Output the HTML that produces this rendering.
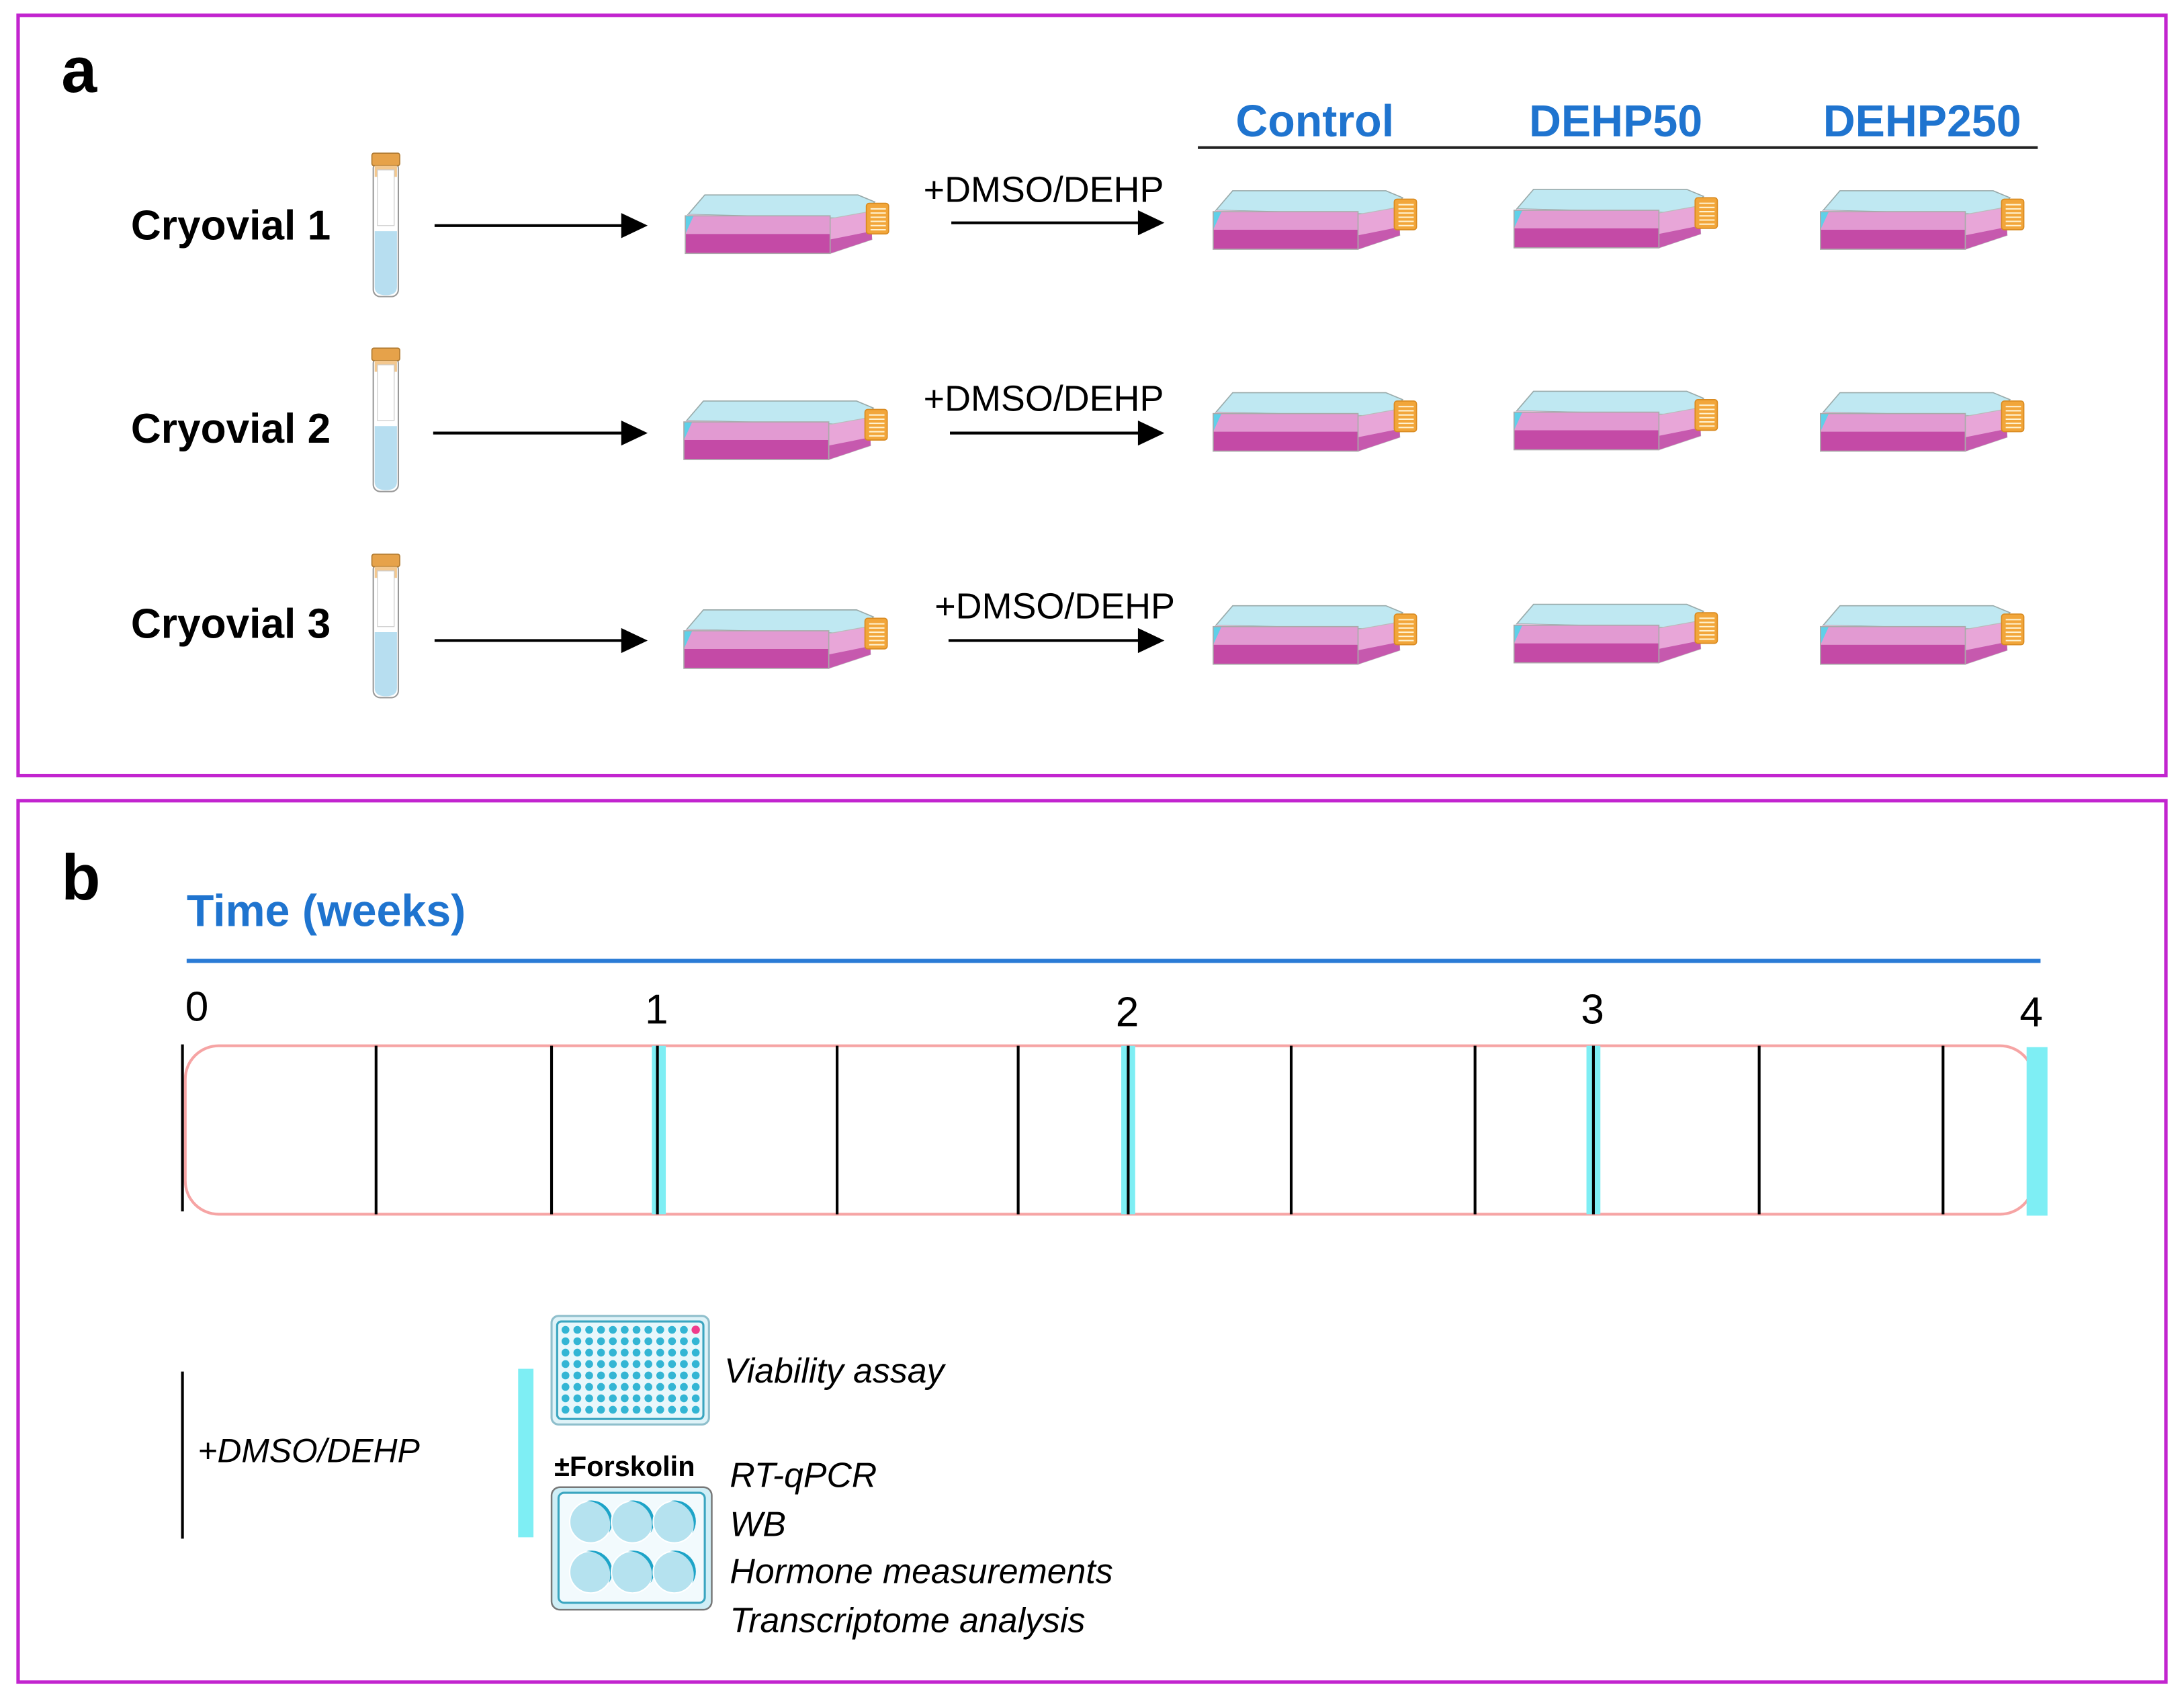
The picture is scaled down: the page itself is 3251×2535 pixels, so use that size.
<!DOCTYPE html>
<html><head><meta charset="utf-8"><style>
html,body{margin:0;padding:0;background:#fff}
svg{display:block}
text{font-family:"Liberation Sans",sans-serif}
</style></head><body>
<svg width="3251" height="2535" viewBox="0 0 1568 1223" preserveAspectRatio="none" xmlns="http://www.w3.org/2000/svg">
<defs>
<g id="flask">
  <polygon points="2,14 14,0 124,0 136,5 126,17" fill="#bfe8f2" stroke="#9aa" stroke-width="0.8"/>
  <polygon points="2,14 126,17 124,19 2,16" fill="#f0c8e4"/>
  <rect x="0" y="15" width="104" height="13" fill="#e29ad2"/>
  <rect x="0" y="28" width="104" height="14" fill="#c44aa6"/>
  <polygon points="0,15 6,15 0,28" fill="#5fd0e8"/>
  <polygon points="104,17 132,12 134,32 104,42" fill="#e8a6d8" stroke="#bbb" stroke-width="0.6"/>
  <polygon points="104,32 134,26 134,32 104,42" fill="#c659ae"/>
  <rect x="0" y="15" width="104" height="27" fill="none" stroke="#aaa" stroke-width="0.8"/>
  <rect x="130" y="6" width="16" height="22" rx="2" fill="#f2a63a" stroke="#d88a20" stroke-width="0.8"/>
  <g stroke="#fff2d0" stroke-width="1"><line x1="133" y1="10" x2="144" y2="10"/><line x1="133" y1="13" x2="144" y2="13"/><line x1="133" y1="16" x2="144" y2="16"/><line x1="133" y1="19" x2="144" y2="19"/><line x1="133" y1="22" x2="144" y2="22"/><line x1="133" y1="25" x2="144" y2="25"/></g>
</g>
<g id="tube">
  <rect x="0" y="6" width="18" height="97" rx="5" fill="#fff" stroke="#999" stroke-width="1"/>
  <path d="M1,56 H17 V96 Q17,102 9,102 Q1,102 1,96 Z" fill="#b7def0"/>
  <rect x="-1" y="0" width="20" height="9" rx="1.5" fill="#e6a24a" stroke="#b07a30" stroke-width="0.8"/>
  <rect x="1" y="9" width="16" height="8" fill="#f3c890"/>
  <rect x="3" y="12" width="12" height="40" fill="#fff" stroke="#ccc" stroke-width="0.6"/>
</g>
<polygon id="hd" points="0,-9 19,0 0,9" fill="#000"/>
<g id="well">
  <circle cx="0" cy="0" r="15" fill="#b5e2ef" stroke="#fff" stroke-width="1"/>
  <path d="M-3,-15 A15,15 0 0 1 13,8 A17,17 0 0 0 -3,-15 Z" fill="#1ea4c8"/>
</g>
</defs>

<!-- panel a -->
<rect x="13" y="11" width="1542" height="546" fill="none" stroke="#c224cf" stroke-width="2.5"/>
<text x="44" y="66" font-size="46" font-weight="bold">a</text>
<g font-size="30" font-weight="bold">
<text x="94" y="172">Cryovial 1</text>
<text x="94" y="318">Cryovial 2</text>
<text x="94" y="458">Cryovial 3</text>
</g>
<use href="#tube" x="268" y="110"/>
<use href="#tube" x="268" y="250"/>
<use href="#tube" x="268" y="398"/>
<g stroke="#000" stroke-width="2">
<line x1="312" y1="162" x2="448" y2="162"/>
<line x1="311" y1="311" x2="448" y2="311"/>
<line x1="312" y1="460" x2="448" y2="460"/>
<line x1="683" y1="160" x2="818" y2="160"/>
<line x1="682" y1="311" x2="818" y2="311"/>
<line x1="681" y1="460" x2="818" y2="460"/>
</g>
<use href="#hd" x="446" y="162"/><use href="#hd" x="446" y="311"/><use href="#hd" x="446" y="460"/>
<use href="#hd" x="817" y="160"/><use href="#hd" x="817" y="311"/><use href="#hd" x="817" y="460"/>
<g font-size="26">
<text x="663" y="145">+DMSO/DEHP</text>
<text x="663" y="295">+DMSO/DEHP</text>
<text x="671" y="444">+DMSO/DEHP</text>
</g>
<g font-size="32" font-weight="bold" fill="#1f74cf" text-anchor="middle">
<text x="944" y="98">Control</text>
<text x="1160" y="98">DEHP50</text>
<text x="1380" y="98">DEHP250</text>
</g>
<line x1="860" y1="106" x2="1463" y2="106" stroke="#222" stroke-width="2"/>
<use href="#flask" x="492" y="140"/>
<use href="#flask" x="491" y="288"/>
<use href="#flask" x="491" y="438"/>
<use href="#flask" x="871" y="137"/><use href="#flask" x="1087" y="136"/><use href="#flask" x="1307" y="137"/>
<use href="#flask" x="871" y="282"/><use href="#flask" x="1087" y="281"/><use href="#flask" x="1307" y="282"/>
<use href="#flask" x="871" y="435"/><use href="#flask" x="1087" y="434"/><use href="#flask" x="1307" y="435"/>

<!-- panel b -->
<rect x="13" y="575" width="1542" height="633" fill="none" stroke="#c224cf" stroke-width="2.5"/>
<text x="44" y="646" font-size="46" font-weight="bold">b</text>
<text x="134" y="665" font-size="32" font-weight="bold" fill="#1f74cf">Time (weeks)</text>
<line x1="134" y1="690" x2="1465" y2="690" stroke="#2a7bd6" stroke-width="3"/>
<g font-size="30">
<text x="133" y="733">0</text>
<text x="463" y="735">1</text>
<text x="801" y="737">2</text>
<text x="1135" y="735">3</text>
<text x="1450" y="737">4</text>
</g>
<rect x="133" y="751" width="1327" height="121" rx="24" fill="none" stroke="#f6a4a4" stroke-width="2"/>
<g fill="#7eeef4">
<rect x="468" y="751" width="10" height="121"/>
<rect x="805" y="751" width="10" height="121"/>
<rect x="1139" y="751" width="10" height="121"/>
<rect x="1455" y="752" width="15" height="121"/>
</g>
<g stroke="#000" stroke-width="2">
<line x1="131" y1="750" x2="131" y2="870"/>
<line x1="270" y1="751" x2="270" y2="872"/>
<line x1="396" y1="751" x2="396" y2="872"/>
<line x1="472" y1="751" x2="472" y2="872"/>
<line x1="601" y1="751" x2="601" y2="872"/>
<line x1="731" y1="751" x2="731" y2="872"/>
<line x1="810" y1="751" x2="810" y2="872"/>
<line x1="927" y1="751" x2="927" y2="872"/>
<line x1="1059" y1="751" x2="1059" y2="872"/>
<line x1="1144" y1="751" x2="1144" y2="872"/>
<line x1="1263" y1="751" x2="1263" y2="872"/>
<line x1="1395" y1="751" x2="1395" y2="872"/>
</g>

<!-- legend -->
<line x1="131" y1="985" x2="131" y2="1105" stroke="#000" stroke-width="2"/>
<text x="142" y="1050" font-size="24" font-style="italic">+DMSO/DEHP</text>
<rect x="372" y="983" width="11" height="121" fill="#7eeef4"/>
<rect x="396" y="945" width="113" height="78" rx="5" fill="#dff3f8" stroke="#8fbfcc" stroke-width="1.5"/>
<rect x="400" y="949" width="105" height="70" rx="3" fill="#e8f7fb" stroke="#3aa5c0" stroke-width="1.5"/>
<g fill="#33b5d4">
<g id="r0">
<circle cx="406" cy="955" r="2.8"/><circle cx="414.5" cy="955" r="2.8"/><circle cx="423" cy="955" r="2.8"/><circle cx="431.5" cy="955" r="2.8"/><circle cx="440" cy="955" r="2.8"/><circle cx="448.5" cy="955" r="2.8"/><circle cx="457" cy="955" r="2.8"/><circle cx="465.5" cy="955" r="2.8"/><circle cx="474" cy="955" r="2.8"/><circle cx="482.5" cy="955" r="2.8"/><circle cx="491" cy="955" r="2.8"/>
</g>
<use href="#r0" y="8.2"/><use href="#r0" y="16.4"/><use href="#r0" y="24.6"/><use href="#r0" y="32.8"/><use href="#r0" y="41"/><use href="#r0" y="49.2"/><use href="#r0" y="57.4"/>
<circle cx="499.5" cy="963.2" r="2.8"/><circle cx="499.5" cy="971.4" r="2.8"/><circle cx="499.5" cy="979.6" r="2.8"/><circle cx="499.5" cy="987.8" r="2.8"/><circle cx="499.5" cy="996" r="2.8"/><circle cx="499.5" cy="1004.2" r="2.8"/><circle cx="499.5" cy="1012.4" r="2.8"/>
</g>
<circle cx="499.5" cy="955" r="3" fill="#f03c8c"/>
<text x="520" y="993" font-size="25" font-style="italic">Viability assay</text>
<text x="398" y="1060" font-size="20" font-weight="bold">±Forskolin</text>
<rect x="396" y="1068" width="115" height="88" rx="6" fill="#cfeef6" stroke="#777" stroke-width="1.2"/>
<rect x="401" y="1072" width="105" height="79" rx="4" fill="#f2fafd" stroke="#3aa5c0" stroke-width="1.5"/>
<use href="#well" x="424" y="1093"/><use href="#well" x="454" y="1093"/><use href="#well" x="484" y="1093"/>
<use href="#well" x="424" y="1129"/><use href="#well" x="454" y="1129"/><use href="#well" x="484" y="1129"/>
<g font-size="25" font-style="italic">
<text x="524" y="1068">RT-qPCR</text>
<text x="524" y="1103">WB</text>
<text x="524" y="1137">Hormone measurements</text>
<text x="524" y="1172">Transcriptome analysis</text>
</g>
</svg>
</body></html>
